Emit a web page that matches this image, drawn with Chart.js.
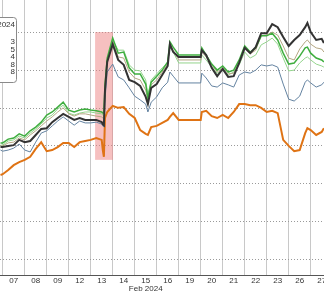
<!DOCTYPE html>
<html>
<head>
<meta charset="utf-8">
<script src="https://cdn.jsdelivr.net/npm/chart.js@4.4.1/dist/chart.umd.min.js"></script>
<style>
  html, body { margin: 0; padding: 0; background: #fff; }
  canvas { display: block; }
</style>
</head>
<body>
<canvas id="chartCanvas" width="324" height="293"></canvas>
<script>
/********** DATA **********/
// trading-day position (0 = open of Feb 07), intraday samples
const times = [
  -0.1, 0, 0.25, 0.5, 0.75, 1, 1.25, 1.5, 1.75, 2, 2.25, 2.5, 2.75, 3, 3.25, 3.5, 3.75, 4, 4.25, 4.5,
  4.55, 4.6, 4.65, 4.75,
  5, 5.25, 5.5, 5.75, 6, 6.25, 6.5, 6.6, 6.75, 7, 7.25, 7.5, 7.6, 7.75, 8,
  9, 9.05, 9.25, 9.5, 9.75, 10, 10.25, 10.5, 10.75, 11, 11.25, 11.5, 11.75, 12, 12.25, 12.5, 12.75, 13, 13.25, 13.5, 13.75, 13.85,
  14, 14.25, 14.5, 14.6
];
const dayLabels = ['07', '08', '09', '12', '13', '14', '15', '16', '19', '20', '21', '22', '23', '26', '27'];
const monthLabel = 'Feb 2024';
const gridValues = [0, 10, 20, 30, 40, 50, 60];

const blackSeries = [
  29.7, 29.7, 30.0, 30.2, 31.6, 31.0, 31.3, 32.9, 34.5, 34.7, 36.3, 37.4, 38.5, 37.7, 36.9, 37.4, 36.9, 36.9, 36.9, 36.3,
  35.8, 35.5, 44.8, 52.3,
  57.0, 52.8, 51.5, 47.5, 46.9, 45.9, 43.0, 41.1, 45.4, 46.4, 48.8, 51.2, 57.0, 54.9, 53.6,
  53.6, 55.4, 54.1, 50.7, 48.5, 50.4, 48.3, 48.5, 52.0, 56.0, 54.6, 56.2, 59.9, 59.9, 62.3, 61.5, 58.9, 56.5, 58.1, 59.4, 61.5, 62.6,
  60.2, 58.1, 58.4, 57.3
];
const khakiSeries = [
  30.0, 30.0, 30.8, 31.0, 32.1, 31.6, 32.9, 34.0, 35.3, 36.6, 37.7, 39.0, 40.1, 38.5, 37.9, 38.5, 38.5, 38.2, 37.9, 37.7,
  37.4, 37.1, 45.4, 52.8,
  57.8, 53.6, 53.3, 49.6, 48.0, 47.5, 44.8, 42.2, 46.2, 47.5, 49.6, 51.7, 57.0, 55.4, 52.8,
  52.8, 54.9, 53.6, 51.5, 49.6, 50.7, 49.1, 49.3, 52.3, 56.0, 54.4, 55.4, 59.2, 59.4, 60.2, 59.4, 56.5, 53.3, 52.8, 55.7, 57.6, 58.1,
  57.0, 56.0, 55.7, 54.9
];
const greenSeries = [
  30.8, 30.8, 31.8, 32.1, 33.2, 32.6, 34.0, 35.0, 36.3, 38.2, 39.0, 40.3, 41.6, 39.5, 39.0, 39.5, 39.8, 39.5, 39.3, 39.0,
  38.7, 38.7, 46.2, 53.3,
  58.6, 54.6, 54.9, 50.7, 49.1, 49.1, 46.4, 42.7, 46.9, 48.5, 50.1, 52.3, 57.6, 56.2, 54.1,
  54.1, 56.0, 54.1, 51.7, 50.1, 51.2, 49.6, 50.1, 52.8, 56.5, 54.9, 56.0, 59.2, 59.2, 59.9, 58.1, 54.6, 51.7, 52.0, 53.8, 56.0, 56.2,
  54.6, 53.3, 52.8, 52.3
];
const lightGreenSeries = [
  30.2, 30.2, 31.3, 31.6, 32.6, 32.1, 33.4, 34.5, 35.8, 37.4, 38.2, 39.8, 40.8, 38.7, 38.2, 38.7, 39.0, 39.0, 38.7, 38.5,
  38.2, 37.9, 45.4, 52.8,
  58.1, 55.4, 55.4, 51.5, 50.1, 49.9, 47.5, 43.5, 47.5, 49.1, 50.7, 52.0, 56.5, 54.9, 52.0,
  52.0, 54.1, 52.8, 50.9, 49.3, 50.1, 48.8, 49.6, 51.5, 54.9, 53.3, 54.1, 56.8, 57.6, 58.6, 57.0, 53.3, 49.9, 50.1, 52.0, 53.3, 53.6,
  52.8, 51.7, 51.2, 50.9
];
const blueSeries = [
  28.9, 28.6, 28.9, 29.4, 30.5, 28.9, 28.4, 31.0, 33.4, 34.0, 35.3, 36.6, 37.7, 36.6, 35.5, 36.6, 36.1, 36.1, 36.3, 35.8,
  35.3, 35.0, 42.2, 49.6,
  51.7, 48.3, 47.5, 45.4, 43.2, 42.2, 41.1, 39.0, 41.6, 43.0, 45.4, 46.9, 49.6, 48.5, 46.7,
  46.7, 49.3, 48.0, 45.9, 45.6, 46.7, 46.2, 45.6, 48.8, 49.6, 49.3, 50.1, 51.5, 51.2, 51.5, 50.9, 46.4, 42.4, 41.9, 43.2, 46.9, 47.5,
  46.7, 45.6, 46.2, 46.9
];
const orangeSeries = [
  22.3, 22.5, 23.6, 24.9, 25.7, 26.3, 27.1, 29.2, 31.0, 28.6, 28.9, 29.7, 30.8, 30.8, 29.7, 31.0, 31.3, 31.6, 32.1, 31.6,
  28.9, 27.1, 37.4, 39.0,
  40.6, 40.1, 40.3, 38.5, 37.4, 34.2, 33.2, 32.9, 35.0, 35.3, 36.1, 36.9, 37.7, 38.7, 36.9,
  36.9, 39.0, 39.3, 37.9, 37.4, 38.2, 37.4, 39.0, 41.1, 41.1, 40.8, 40.8, 40.1, 39.0, 39.3, 38.7, 31.6, 30.0, 28.6, 28.9, 33.4, 34.7,
  34.2, 32.9, 33.7, 34.7
];

// finestra evidenziata (CPI, 13 feb)
const shadeX = [4.2, 5.01];
const shadeY = [26.3, 60.2];

const legendTitle = 'Dec 2024';
const legendItems = ['3', '5', '4', '8', '8'];

/********** HELPERS **********/
function toPoints(values) {
  return values.map((v, i) => ({ x: times[i], y: v }));
}

function makeDataset(label, values, color, width) {
  return {
    label: label,
    data: toPoints(values),
    borderColor: color,
    borderWidth: width,
    pointRadius: 0,
    tension: 0,
    fill: false
  };
}

const shadePlugin = {
  id: 'shade',
  beforeDatasetsDraw(chart) {
    const { ctx, scales: { x, y } } = chart;
    const x0 = x.getPixelForValue(shadeX[0]);
    const x1 = x.getPixelForValue(shadeX[1]);
    const y0 = y.getPixelForValue(shadeY[1]);
    const y1 = y.getPixelForValue(shadeY[0]);
    ctx.save();
    ctx.fillStyle = 'rgba(238, 130, 130, 0.5)';
    ctx.fillRect(x0, y0, x1 - x0, y1 - y0);
    ctx.restore();
  }
};

const legendBoxPlugin = {
  id: 'legendBox',
  afterDatasetsDraw(chart) {
    const ctx = chart.ctx;
    ctx.save();
    ctx.fillStyle = '#fff';
    ctx.strokeStyle = '#8a8a8a';
    ctx.lineWidth = 1;
    ctx.beginPath();
    ctx.roundRect(-30.5, 17.5, 47, 65, 3);
    ctx.fill();
    ctx.stroke();
    ctx.fillStyle = '#333';
    ctx.font = '8px "Liberation Sans", Arial, sans-serif';
    ctx.textAlign = 'right';
    ctx.textBaseline = 'middle';
    ctx.fillText(legendTitle, 15, 25);
    legendItems.forEach((t, i) => ctx.fillText(t, 15, 42 + i * 7.5));
    ctx.restore();
  }
};

/********** CHART.JS SETUP **********/
const ctx = document.getElementById('chartCanvas').getContext('2d');
new Chart(ctx, {
  type: 'line',
  data: {
    datasets: [
      makeDataset('Black', blackSeries, '#333333', 2),
      makeDataset('Green', greenSeries, '#3fae3f', 1.5),
      makeDataset('Khaki', khakiSeries, '#b5a783', 1),
      makeDataset('Light green', lightGreenSeries, '#93d48c', 1),
      makeDataset('Blue', blueSeries, '#6382a0', 1),
      makeDataset('Orange', orangeSeries, '#df7314', 2)
    ]
  },
  options: {
    responsive: false,
    animation: false,
    parsing: false,
    layout: { padding: 0 },
    plugins: {
      legend: { display: false },
      tooltip: { enabled: false }
    },
    scales: {
      x: {
        type: 'linear',
        min: -0.123,
        max: 14.605,
        afterBuildTicks: s => { s.ticks = dayLabels.map((l, i) => ({ value: i + 0.5 })); },
        afterFit: s => { s.height = 18; s.paddingLeft = 0; s.paddingRight = 0; },
        ticks: {
          autoSkip: false,
          maxRotation: 0,
          padding: 1,
          color: '#333',
          font: { family: '"Liberation Sans", Arial, sans-serif', size: 8, lineHeight: 1.1 },
          callback: (v, i) => i === 6 ? [dayLabels[i], monthLabel] : dayLabels[i]
        },
        grid: { offset: true, color: '#c8c8c8', drawTicks: false },
        border: { color: '#555' }
      },
      y: {
        type: 'linear',
        min: -4.24,
        max: 68.7,
        afterBuildTicks: s => { s.ticks = gridValues.map(v => ({ value: v })); },
        afterFit: s => { s.width = 0; },
        ticks: { display: false },
        grid: { color: '#9a9a9a', drawTicks: false },
        border: { display: false, dash: [1, 2] }
      }
    }
  },
  plugins: [shadePlugin, legendBoxPlugin]
});
</script>
</body>
</html>
